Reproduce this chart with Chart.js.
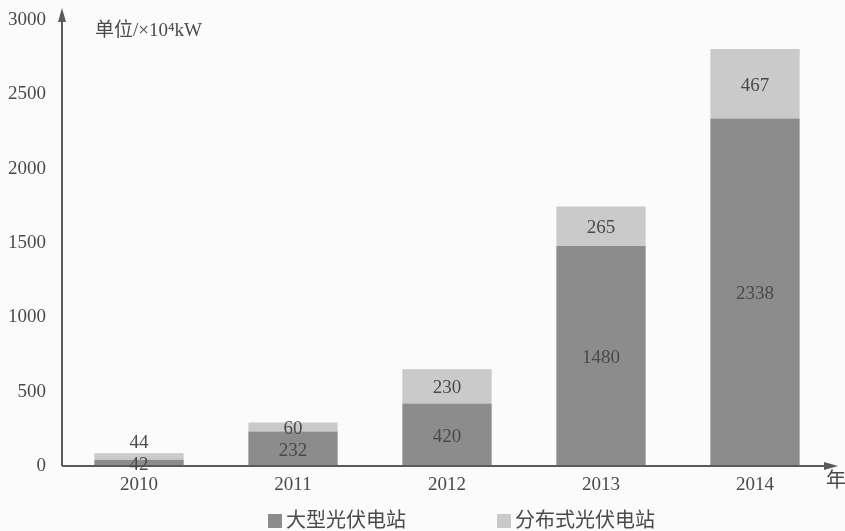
<!DOCTYPE html>
<html>
<head>
<meta charset="utf-8">
<script src="https://cdn.jsdelivr.net/npm/chart.js@4.4.1/dist/chart.umd.min.js"></script>
<style>
  html, body { margin: 0; padding: 0; background: #fbfbfb; }
  #wrap { width: 845px; height: 531px; position: relative; }
</style>
</head>
<body>
<div id="wrap"><canvas id="c" width="845" height="531"></canvas></div>
<script>
// Installed PV capacity by year (unit: 10^4 kW)
const years = ['2010', '2011', '2012', '2013', '2014'];
const largeStations = [42, 232, 420, 1480, 2338];
const distributedStations = [44, 60, 230, 265, 467];
const yTicks = [0, 500, 1000, 1500, 2000, 2500, 3000];
const seriesNames = ['大型光伏电站', '分布式光伏电站'];
const unitText = '单位/×10⁴kW';
const xAxisTitle = '年';

const SERIF = '"Liberation Serif", "DejaVu Serif", "Noto Sans CJK SC", serif';
const TEXT = '#4a4a4a';
const AXIS = '#5a5a5a';
const colors = ['#8c8c8c', '#cacaca'];

// Axes with arrowheads, unit caption, value labels and legend
const decorations = {
  id: 'decorations',
  afterDatasetsDraw(chart) {
    const { ctx, chartArea: a } = chart;
    ctx.save();
    // axis lines
    ctx.strokeStyle = AXIS;
    ctx.fillStyle = AXIS;
    ctx.lineWidth = 2;
    ctx.beginPath();
    ctx.moveTo(a.left, a.bottom);
    ctx.lineTo(a.left, a.top - 6);
    ctx.moveTo(a.left, a.bottom);
    ctx.lineTo(a.right + 2, a.bottom);
    ctx.stroke();
    // arrowheads
    ctx.beginPath();
    ctx.moveTo(a.left, a.top - 12);
    ctx.lineTo(a.left - 4, a.top + 2);
    ctx.lineTo(a.left + 4, a.top + 2);
    ctx.closePath();
    ctx.fill();
    ctx.beginPath();
    ctx.moveTo(a.right + 6, a.bottom);
    ctx.lineTo(a.right - 8, a.bottom - 4);
    ctx.lineTo(a.right - 8, a.bottom + 4);
    ctx.closePath();
    ctx.fill();

    // unit caption and x axis title
    ctx.fillStyle = TEXT;
    ctx.font = '19px ' + SERIF;
    ctx.textAlign = 'left';
    ctx.textBaseline = 'middle';
    ctx.fillText(unitText, 95, 31);
    ctx.font = '20px ' + SERIF;
    ctx.fillText(xAxisTitle, a.right - 6, a.bottom + 16);

    // value labels, centred in each segment
    ctx.font = '19px ' + SERIF;
    ctx.textAlign = 'center';
    const yScale = chart.scales.y;
    const m0 = chart.getDatasetMeta(0).data;
    const m1 = chart.getDatasetMeta(1).data;
    years.forEach((_, i) => {
      const lo = largeStations[i];
      const hi = distributedStations[i];
      const x = m0[i].x;
      const yLo = yScale.getPixelForValue(lo / 2);
      ctx.fillText(String(lo), x, Math.min(yLo + 2, a.bottom - 1));
      let yHi = yScale.getPixelForValue(lo + hi / 2);
      if (lo < 100) yHi = m1[i].y - 12; // short bar: put it above
      ctx.fillText(String(hi), x, yHi + 2);
    });

    // legend
    ctx.font = '20px ' + SERIF;
    ctx.textAlign = 'left';
    const legendY = 521;
    const items = [{ x: 268 }, { x: 497 }];
    items.forEach((it, k) => {
      ctx.fillStyle = colors[k];
      ctx.fillRect(it.x, legendY - 7, 14, 14);
      ctx.fillStyle = TEXT;
      ctx.fillText(seriesNames[k], it.x + 18, legendY + 1);
    });
    ctx.restore();
  }
};

new Chart(document.getElementById('c'), {
  type: 'bar',
  data: {
    labels: years,
    datasets: [
      { label: seriesNames[0], data: largeStations, backgroundColor: colors[0] },
      { label: seriesNames[1], data: distributedStations, backgroundColor: colors[1] }
    ]
  },
  options: {
    responsive: false,
    animation: false,
    devicePixelRatio: 1,
    layout: { padding: { top: 20, right: 13, bottom: 35, left: 0 } },
    datasets: { bar: { categoryPercentage: 1, barPercentage: 0.58 } },
    plugins: { legend: { display: false }, tooltip: { enabled: false } },
    scales: {
      x: {
        stacked: true,
        grid: { display: false },
        border: { display: false },
        ticks: { color: TEXT, font: { family: SERIF, size: 19 }, padding: 0 },
        afterFit(s) { s.height = 30; }
      },
      y: {
        stacked: true,
        min: 0,
        max: 3000,
        grid: { display: false },
        border: { display: false },
        afterBuildTicks(s) { s.ticks = yTicks.map(v => ({ value: v })); },
        ticks: {
          color: TEXT,
          font: { family: SERIF, size: 19 },
          padding: 8,
          callback: v => String(v)
        },
        afterFit(s) { s.width = 62; }
      }
    }
  },
  plugins: [decorations]
});
</script>
</body>
</html>
